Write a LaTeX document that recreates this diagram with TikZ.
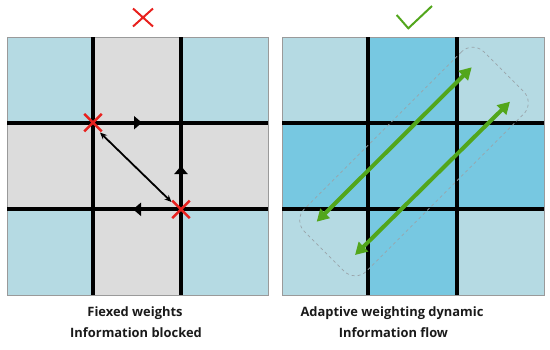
\documentclass[tikz,border=0pt]{standalone}
\usepackage{fontspec}
\setmainfont{Open Sans}
\newfontfamily\labfont{Open Sans}
\usetikzlibrary{arrows.meta,shapes.misc}
\definecolor{lblue}{HTML}{B5DAE3}
\definecolor{dblue}{HTML}{77C8E1}
\definecolor{lgray}{HTML}{DCDCDC}
\definecolor{xred}{HTML}{E8211E}
\definecolor{okgreen}{HTML}{52A61C}
\definecolor{framegray}{HTML}{9A9A9A}
\definecolor{bandgray}{HTML}{9AA4AA}
\definecolor{labtext}{HTML}{1A1A1A}
\tikzset{
  panelframe/.style={draw=framegray, line width=1pt},
  gridline/.style={black, line width=4pt},
  xmark/.style={shape=cross out, draw=xred, line width=2.5pt, minimum size=15pt, inner sep=0pt},
  linetip/.style={black, line width=4pt, -{Triangle[length=8pt,width=13pt]}},
  blockarrow/.style={black, line width=1.8pt, {Stealth[length=7pt,width=6pt]}-{Stealth[length=7pt,width=6pt]}},
  greenarrow/.style={okgreen, line width=4pt, {Triangle[length=12pt,width=13pt]}-{Triangle[length=12pt,width=13pt]}},
  band/.style={draw=bandgray, dashed, line width=0.7pt, rounded corners=16pt, minimum width=254pt, minimum height=88pt, rotate=45, inner sep=0pt},
  lab/.style={font=\labfont\bfseries\fontsize{12.9}{15}\selectfont, text=labtext, anchor=base, inner sep=0pt}
}
\begin{document}
\begin{tikzpicture}[x=1pt,y=-1pt]
\useasboundingbox (0,0) rectangle (550,349);
% ---------- left panel ----------
\fill[lgray] (7,37) rectangle (268,295);
\fill[lblue] (7,37) rectangle (93,123);
\fill[lblue] (181,37) rectangle (268,123);
\fill[lblue] (7,209) rectangle (93,295);
\fill[lblue] (181,209) rectangle (268,295);
\draw[panelframe] (7,37) rectangle (268,295);
\draw[gridline] (93,37) -- (93,295);
\draw[gridline] (181,37) -- (181,295);
\draw[gridline] (7,122.7) -- (268,122.7);
\draw[gridline] (7,209.3) -- (268,209.3);
\coordinate (t1s) at (120,122.7); \coordinate (t1e) at (142,122.7);
\coordinate (t2s) at (181,188); \coordinate (t2e) at (181,166);
\coordinate (t3s) at (158,209.3); \coordinate (t3e) at (133,209.3);
\draw[linetip] (t1s) -- (t1e);
\draw[linetip] (t2s) -- (t2e);
\draw[linetip] (t3s) -- (t3e);
\coordinate (da) at (100,132.5); \coordinate (db) at (171.5,202);
\draw[blockarrow] (da) -- (db);
\node[xmark] (xa) at (93,122.7) {};
\node[xmark] (xb) at (181,209.3) {};
\node[shape=cross out, draw=xred, line width=2pt, minimum width=18pt, minimum height=16pt, inner sep=0pt] (xtop) at (143,17.5) {};
% ---------- right panel ----------
\fill[dblue] (282,37) rectangle (544,295);
\fill[lblue] (282,37) rectangle (368,123);
\fill[lblue] (457,37) rectangle (544,123);
\fill[lblue] (282,209) rectangle (368,295);
\fill[lblue] (457,209) rectangle (544,295);
\draw[panelframe] (282,37) rectangle (544,295);
\draw[gridline] (368.3,37) -- (368.3,295);
\draw[gridline] (457,37) -- (457,295);
\draw[gridline] (282,122.7) -- (544,122.7);
\draw[gridline] (282,209.3) -- (544,209.3);
\node[band] (flowband) at (414,161.5) {};
\coordinate (g1s) at (316.7,221.7); \coordinate (g1e) at (471.7,67.3);
\coordinate (g2s) at (355,255); \coordinate (g2e) at (510,101.7);
\draw[greenarrow] (g1s) -- (g1e);
\draw[greenarrow] (g2s) -- (g2e);
\draw[okgreen, line width=2pt] (396.7,15) -- (408.3,28.3) -- (432,6);
% ---------- labels ----------
\node[lab] (l1) at (135,316) {Fiexed weights};
\node[lab] (l2) at (136,337.5) {Information blocked};
\node[lab] (r1) at (392,316) {Adaptive weighting dynamic};
\node[lab] (r2) at (393.5,337.5) {Information flow};
\end{tikzpicture}
\end{document}
